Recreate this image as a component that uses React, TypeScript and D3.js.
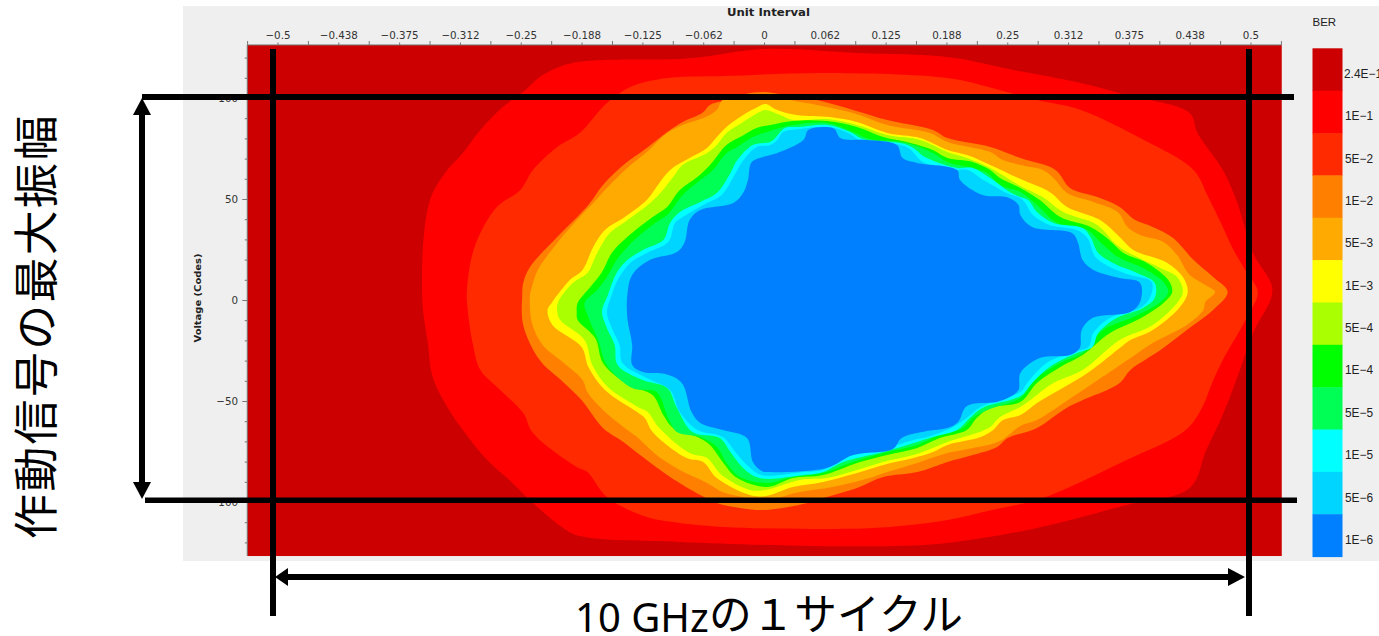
import React from "react";
import * as d3 from "d3";

// Contours: [unit interval x 1000, voltage in codes]
const berRed = [[1,124.5],[-64,120.5],[-87,119.5],[-197,117.6],[-228,111.6],[-248,103.2],[-269,95.8],[-292,84.4],[-310,73],[-326,64.6],[-341,53.2],[-347,43.3],[-351,26.5],[-352,8.7],[-351,-4.7],[-346,-21],[-341,-37.9],[-326,-52.7],[-310,-64.1],[-285,-79],[-259,-90.3],[-238,-100.2],[-207,-112.6],[-190,-116.6],[-87,-119.5],[51,-121.5],[133,-121.5],[188,-120],[280,-112.6],[372,-101.2],[437,-92.8],[454,-74],[470,-57.7],[486,-37.9],[502,-16.1],[522,5.2],[502,23.5],[486,48.3],[471,64.6],[445,82.9],[437,92.8],[372,101.7],[325,107.7],[256,114.1],[188,120.5],[96,122.5]];
const berOrangeRed = [[-87,110.6],[-41,111.1],[60,112.6],[188,110.1],[234,105.2],[280,99.2],[325,94.3],[390,79.4],[441,64.6],[456,51.2],[471,36.4],[482,25],[496,13.6],[507,4.2],[496,-8.2],[471,-29.5],[460,-40.8],[450,-52.7],[433,-64.1],[372,-79],[325,-89.8],[280,-98.8],[234,-103.7],[188,-108.7],[129,-112.1],[51,-113.1],[-41,-112.1],[-87,-110.1],[-121,-107.2],[-162,-97.3],[-182,-84.9],[-193,-82.4],[-238,-65.6],[-248,-55.7],[-275,-42.8],[-292,-34.4],[-300,-21],[-305,-4.7],[-306,3.7],[-301,21.5],[-292,33.4],[-275,46.3],[-251,54.7],[-238,64.6],[-213,76],[-190,82.9],[-162,97.8],[-138,105.7],[-107,109.6]];
const berOrange = [[1,103.2],[21,101.7],[54,99.2],[91,94.3],[126,89.3],[173,84.4],[188,80.4],[232,76],[263,70.5],[299,64.6],[314,55.7],[342,51.2],[365,46.3],[381,39.8],[399,36.4],[420,30.9],[441,20],[461,11.6],[476,4.2],[461,-4.7],[434,-14.6],[407,-24.5],[376,-34.4],[365,-40.8],[312,-52.7],[280,-63.1],[250,-68.1],[239,-72.5],[214,-76.5],[188,-79.9],[157,-84.9],[122,-87.4],[95,-92.8],[64,-97.3],[44,-100.2],[1,-103.7],[-25,-102.7],[-49,-100.2],[-66,-96.3],[-97,-87.4],[-125,-77.5],[-145,-70],[-166,-63.1],[-188,-49.3],[-207,-40.3],[-231,-29.5],[-248,-12.1],[-249,2.7],[-248,8.7],[-241,16.6],[-213,31.4],[-181,47.3],[-166,57.2],[-145,67.1],[-121,75.5],[-100,83.4],[-84,88.4],[-64,92.8],[-56,96.8],[-39,99.2],[-20,102.2]];
const berAmber = [[1,102.2],[26,99.2],[54,96.8],[91,92.8],[126,86.9],[170,82.9],[188,78.5],[232,73.5],[245,69.5],[263,67.1],[286,64.6],[297,60.6],[311,53.2],[338,48.8],[363,43.8],[373,36.4],[386,32.4],[410,29],[424,22.5],[437,12.6],[453,7.7],[463,4.2],[453,-0.7],[451,-4.7],[434,-12.1],[399,-21],[373,-29.5],[312,-49.3],[280,-59.2],[263,-62.1],[242,-69.5],[214,-73],[188,-75.5],[157,-80.4],[126,-84.9],[108,-87.9],[70,-92.3],[36,-94.8],[1,-98.8],[-22,-97.3],[-43,-94.8],[-59,-90.3],[-87,-83.9],[-111,-76.5],[-131,-67.6],[-145,-62.6],[-166,-54.2],[-182,-45.3],[-187,-39.4],[-210,-29.5],[-228,-22],[-239,-11.1],[-241,2.7],[-239,6.7],[-233,15.1],[-213,28.5],[-188,42.3],[-176,48.3],[-161,56.2],[-141,65.6],[-121,73.5],[-100,82.9],[-84,86.9],[-63,90.3],[-49,94.3],[-43,99.2],[-20,101.2]];
const berYellow = [[1,97.3],[13,94.3],[33,91.8],[67,90.8],[95,88.4],[126,82.9],[160,80.4],[188,74.5],[208,72],[232,67.1],[263,60.1],[293,53.7],[311,46.3],[345,39.8],[365,31.4],[379,25],[414,18.6],[430,11.6],[435,4.2],[427,-3.2],[399,-14.6],[376,-19.6],[369,-22],[332,-35.9],[303,-44.3],[280,-50.7],[263,-56.7],[245,-59.2],[235,-64.1],[222,-67.6],[188,-71.5],[173,-75],[153,-78],[122,-81.4],[95,-85.4],[60,-89.8],[29,-92.3],[1,-96.8],[-15,-96.3],[-49,-87.9],[-63,-79.9],[-80,-78],[-115,-65.1],[-123,-58.2],[-131,-55.2],[-164,-44.3],[-181,-32.9],[-188,-23],[-218,-12.1],[-223,-4.7],[-218,-0.7],[-200,10.1],[-187,15.1],[-176,26.5],[-164,34.9],[-145,40.8],[-121,49.7],[-111,56.2],[-97,64.6],[-77,70.5],[-59,75.5],[-49,80.9],[-39,85.9],[-22,91.8],[-7,95.8]];
const berLime = [[1,94.3],[16,91.8],[29,89.3],[64,89.8],[95,86.9],[126,81.9],[160,79.4],[188,73.5],[208,70.5],[232,65.6],[263,56.7],[286,51.2],[307,43.8],[342,37.4],[362,27.5],[379,22.5],[407,16.1],[424,11.6],[430,4.2],[424,-1.2],[399,-12.1],[365,-19.6],[327,-34.4],[297,-40.8],[263,-52.7],[242,-57.7],[232,-62.6],[218,-65.6],[188,-70],[173,-73],[153,-76.5],[122,-79.9],[95,-83.9],[64,-87.9],[36,-88.8],[1,-93.8],[-15,-93.8],[-44,-86.4],[-59,-78],[-77,-75.5],[-109,-62.6],[-120,-55.2],[-130,-52.7],[-161,-42.8],[-177,-31.9],[-185,-19.6],[-210,-9.7],[-213,-5.7],[-212,-0.7],[-197,8.7],[-182,13.6],[-172,23.5],[-159,33.4],[-145,38.4],[-120,47.3],[-107,53.2],[-94,61.1],[-84,67.1],[-59,73],[-49,77],[-39,82.9],[-22,88.4],[-5,93.3]];
const berGreen = [[6,86.9],[29,88.9],[64,88.9],[95,85.9],[122,80.9],[150,78],[173,74.5],[188,70.5],[214,68.6],[232,64.6],[242,60.6],[263,55.7],[283,49.7],[304,41.3],[335,36.4],[352,30.9],[369,23.5],[393,18.6],[415,10.1],[419,4.2],[410,-1.2],[383,-9.7],[355,-16.1],[327,-27],[304,-32.9],[280,-40.8],[263,-50.2],[232,-53.2],[218,-58.2],[208,-64.1],[180,-68.1],[157,-73],[126,-76.5],[95,-80.4],[60,-86.4],[29,-87.9],[3,-92.3],[-28,-87.9],[-43,-79.9],[-56,-71.5],[-69,-67.6],[-94,-63.1],[-104,-56.7],[-115,-46.8],[-140,-41.8],[-166,-30.9],[-174,-18.6],[-192,-9.7],[-193,-5.7],[-192,-1.2],[-179,6.7],[-167,14.1],[-157,23.5],[-141,31.4],[-115,41.3],[-100,46.3],[-87,54.7],[-69,61.1],[-56,67.1],[-39,77],[-25,80.9],[-8,85.4]];
const berSpring = [[9,84.4],[29,86.9],[64,87.9],[91,83.4],[108,79.9],[146,78],[173,73],[188,68.6],[214,65.6],[229,63.1],[242,57.2],[263,53.7],[280,47.3],[301,38.4],[332,34.9],[345,29],[365,21],[389,16.1],[410,9.2],[415,4.2],[407,-0.7],[379,-8.2],[348,-14.6],[327,-26],[304,-30.9],[280,-38.4],[263,-48.3],[229,-54.2],[214,-58.2],[204,-63.1],[180,-66.6],[157,-71.5],[122,-75.5],[88,-80.4],[60,-85.4],[29,-87.4],[3,-90.3],[-25,-87.4],[-39,-80.4],[-49,-72.5],[-66,-67.6],[-90,-65.1],[-99,-58.2],[-111,-45.3],[-136,-43.3],[-162,-31.9],[-171,-19.6],[-182,-7.2],[-185,-1.2],[-172,5.2],[-162,11.6],[-152,20],[-136,29],[-111,38.9],[-100,42.3],[-84,52.2],[-66,59.6],[-53,64.6],[-39,73],[-28,76],[-12,80.9]];
const berCyan = [[11,80.4],[21,85.4],[36,85.9],[65,86.9],[88,83.4],[101,79.9],[147,77],[167,70.5],[198,65.6],[214,65.6],[232,60.6],[252,53.7],[263,51.2],[271,49.7],[280,43.8],[297,38.4],[327,35.9],[335,31.4],[343,23.5],[358,18.6],[383,13.6],[401,8.7],[401,1.2],[389,-3.7],[362,-8.7],[343,-16.1],[337,-23],[321,-26],[293,-32.9],[275,-40.8],[263,-47.3],[224,-53.2],[211,-58.2],[198,-64.1],[173,-67.6],[157,-70],[122,-75],[81,-79.9],[60,-84.9],[40,-86.4],[-5,-87.9],[-22,-82.9],[-35,-75],[-46,-68.1],[-74,-65.1],[-90,-53.2],[-100,-43.3],[-125,-39.4],[-151,-31.9],[-154,-22],[-162,-13.6],[-167,-5.7],[-161,2.7],[-152,13.6],[-141,20],[-125,25],[-104,29.9],[-97,38.4],[-87,43.8],[-66,48.8],[-49,53.2],[-35,63.1],[-28,69.5],[-12,77],[6,78.5]];
const berSky = [[13,79.4],[19,83.4],[36,84.9],[67,85.9],[86,82.9],[98,79.4],[146,76],[163,68.6],[194,64.6],[209,64.6],[225,59.6],[249,53.2],[263,50.7],[268,48.3],[276,42.3],[293,37.4],[321,34.9],[332,30.9],[340,21.5],[355,16.6],[376,12.6],[398,9.2],[396,1.2],[386,-3.7],[355,-8.7],[338,-16.1],[333,-23],[317,-25.5],[290,-30.9],[270,-40.8],[263,-45.3],[222,-52.7],[209,-57.7],[194,-62.6],[167,-67.6],[153,-69],[119,-74],[81,-78],[60,-83.9],[40,-84.9],[-3,-86.4],[-18,-81.4],[-30,-75],[-43,-67.6],[-69,-64.1],[-87,-55.2],[-97,-44.3],[-121,-38.4],[-146,-30.9],[-149,-22],[-157,-13.6],[-162,-5.7],[-157,2.7],[-151,10.1],[-138,18.6],[-121,23.5],[-99,28.9],[-92,38.4],[-84,41.3],[-63,47.3],[-44,52.2],[-32,61.1],[-23,68.6],[-8,76],[6,77]];
const berBlue = [[13,73],[40,79.4],[45,84.4],[64,85.9],[72,84.9],[78,80.4],[105,79.4],[136,77],[142,70.5],[157,68.1],[198,64.6],[201,59.6],[224,52.2],[249,51.2],[261,47.3],[263,42.3],[275,36.4],[316,33.4],[322,29],[327,20],[338,15.1],[365,11.1],[386,8.7],[386,-0.7],[376,-5.7],[337,-8.7],[326,-14.6],[324,-23.5],[314,-27],[283,-28.5],[263,-35.9],[261,-44.3],[252,-47.8],[239,-50.2],[208,-52.2],[199,-60.1],[188,-63.1],[167,-64.6],[141,-68.1],[132,-73.5],[91,-76.5],[64,-82.9],[3,-84.9],[-3,-84.4],[-12,-79.9],[-18,-68.1],[-43,-64.1],[-66,-60.6],[-75,-55.2],[-85,-40.8],[-102,-36.4],[-125,-35.4],[-136,-31.9],[-136,-22],[-141,-8.7],[-141,2.7],[-136,12.6],[-118,20],[-90,24],[-82,29],[-77,39.8],[-66,44.8],[-32,48.3],[-22,53.2],[-17,59.6],[-13,68.6],[6,72]];

const contours = [berRed, berOrangeRed, berOrange, berAmber, berYellow, berLime, berGreen, berSpring, berCyan, berSky, berBlue];
const levelColors = ["#cc0000", "#ff0000", "#ff2a00", "#ff8000", "#ffaa00", "#ffff00", "#aaff00", "#00ff00", "#00ff55", "#00ffff", "#00d5ff", "#0080ff"];
const legendLabels = ["2.4E-1", "1E-1", "5E-2", "1E-2", "5E-3", "1E-3", "5E-4", "1E-4", "5E-5", "1E-5", "5E-6", "1E-6"];
const uiLabels = ["-0.5", "-0.438", "-0.375", "-0.312", "-0.25", "-0.188", "-0.125", "-0.062", "0", "0.062", "0.125", "0.188", "0.25", "0.312", "0.375", "0.438", "0.5"];
const voltageLabels = [100, 50, 0, -50, -100];
const voltageMinor = [-120, -110, -90, -80, -70, -60, -40, -30, -20, -10, 10, 20, 30, 40, 60, 70, 80, 90, 110, 120];

const sans = "'DejaVu Sans', sans-serif";
const x = d3.scaleLinear().domain([-0.5, 0.5]).range([278, 1251]);
const y = d3.scaleLinear().domain([0, 100]).range([300.5, 98.5]);
const legendY = d3.scaleBand<string>().domain(legendLabels).range([48.3, 556.6]);
const left = x(-0.5316);
const right = x(0.5316);
const top = y(126.5);
const bottom = y(-126.5);
const line = d3.line<number[]>().x((p) => x(p[0] / 1000)).y((p) => y(p[1])).curve(d3.curveCatmullRomClosed.alpha(0.5));
const minus = (s: string | number) => String(s).replace("-", "\u2212");
const xTicks = d3.range(-17, 18).map((k) => ({ v: k / 32, long: Math.abs(k) % 2 === 1 }));

function Arrow({ tip, dx, dy, len, half }: { tip: [number, number]; dx: number; dy: number; len: number; half: number }) {
  const bx = tip[0] - dx * len;
  const by = tip[1] - dy * len;
  const pts = [tip, [bx - dy * half, by - dx * half], [bx + dy * half, by + dx * half]];
  return <polygon points={pts.map((p) => p.join(",")).join(" ")} fill="#000" />;
}

export default function App() {
  return (
    <svg width={1379} height={636} style={{ position: "absolute", left: 0, top: 0, display: "block", background: "#fff" }}>
      <rect x={183} y={6} width={1196} height={555} fill="#efefef" />
      <rect x={left} y={top} width={right - left} height={bottom - top} fill={levelColors[0]} />
      {contours.map((c, i) => (
        <path key={i} d={line(c) ?? ""} fill={levelColors[i + 1]} />
      ))}
      <path d={`M${left},${bottom}V${top}H${right}`} fill="none" stroke="#777" />
      {xTicks.map((t) => (
        <line key={t.v} x1={x(t.v)} x2={x(t.v)} y1={top} y2={top - (t.long ? 4 : 2.5)} stroke="#777" />
      ))}
      {uiLabels.map((l, i) => (
        <text key={l} x={x(-0.5 + i * 0.0625)} y={38.5} textAnchor="middle" fontFamily={sans} fontSize={10.3} fill="#333">{minus(l)}</text>
      ))}
      {voltageMinor.map((v) => (
        <line key={v} x1={left - 2.5} x2={left} y1={y(v)} y2={y(v)} stroke="#777" />
      ))}
      {voltageLabels.map((v) => (
        <g key={v}>
          <line x1={left - 5} x2={left} y1={y(v)} y2={y(v)} stroke="#777" />
          <text x={238} y={y(v) + 3.5} textAnchor="end" fontFamily={sans} fontSize={10.3} fill="#333">{minus(v)}</text>
        </g>
      ))}
      <text x={768.5} y={15.5} textAnchor="middle" fontFamily={sans} fontSize={10.2} fontWeight={700} fill="#222" textLength={83} lengthAdjust="spacingAndGlyphs">Unit Interval</text>
      <text transform="translate(201,298) rotate(-90)" textAnchor="middle" fontFamily={sans} fontSize={9.2} fontWeight={700} fill="#222" textLength={89} lengthAdjust="spacingAndGlyphs">Voltage (Codes)</text>
      <text x={1312.5} y={26} fontFamily="'Liberation Sans', sans-serif" fontSize={11.5} fill="#222">BER</text>
      {legendLabels.map((l, i) => (
        <g key={l}>
          <rect x={1312.5} y={legendY(l)} width={30} height={legendY.bandwidth() + 0.5} fill={levelColors[i]} />
          <text x={i === 0 ? 1344 : 1345} y={(legendY(l) ?? 0) + legendY.bandwidth() / 2 + 8.5} fontFamily="'Liberation Sans', sans-serif" fontSize={12} fill="#222" textLength={i === 0 ? 38 : 28} lengthAdjust="spacingAndGlyphs">{l.replace("-", "\u2212")}</text>
        </g>
      ))}

      <rect x={142} y={94} width={1152} height={6} fill="#000" />
      <rect x={145} y={497.5} width={1152} height={5.5} fill="#000" />
      <rect x={270} y={49} width={6} height={567} fill="#000" />
      <rect x={1246} y={49} width={6} height={567} fill="#000" />
      <rect x={280} y={574} width={955} height={6} fill="#000" />
      <Arrow tip={[275, 577]} dx={-1} dy={0} len={13} half={9} />
      <Arrow tip={[1245, 577]} dx={1} dy={0} len={17} half={9} />
      <rect x={139} y={110} width={6} height={380} fill="#000" />
      <Arrow tip={[142, 98]} dx={0} dy={-1} len={17} half={9} />
      <Arrow tip={[142, 499]} dx={0} dy={1} len={17} half={9} />

      <text transform="translate(53,539) rotate(-90)" fontFamily="'Noto Sans CJK JP', sans-serif" fontSize={45} letterSpacing={2.3} fill="#000">作動信号の最大振幅</text>
      <text x={575} y={632} fontFamily="'Noto Sans', sans-serif" fontSize={40} fill="#000">10 GHz</text>
      <text x={709} y={630} fontFamily="'Noto Sans CJK JP', sans-serif" fontSize={42.7} fill="#000">の１サイクル</text>
    </svg>
  );
}
